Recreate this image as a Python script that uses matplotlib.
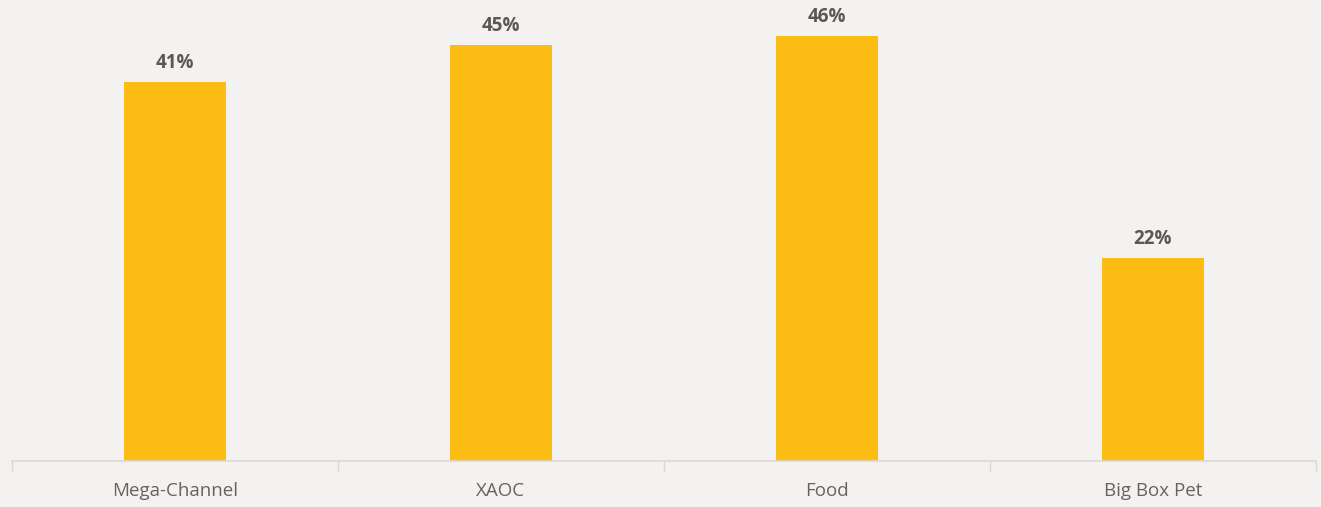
import matplotlib.pyplot as plt

# Datos del grafico
categorias = ["Mega-Channel", "XAOC", "Food", "Big Box Pet"]
valores = [41, 45, 46, 22]
etiquetas = ["41%", "45%", "46%", "22%"]

plt.rcParams['font.family'] = ['Open Sans', 'DejaVu Sans']

fig = plt.figure(figsize=(13.21, 5.07), dpi=100)
fig.patch.set_facecolor('#f3f2f0')
ax = fig.add_axes([12 / 1321, 46 / 507, 1304 / 1321, 461 / 507])
ax.set_facecolor('none')

posiciones = range(len(categorias))
barras = ax.bar(posiciones, valores, width=0.31, color='#fbbc13')

for x, v, txt in zip(posiciones, valores, etiquetas):
    ax.annotate(txt, (x, v), xytext=(0, 6.5), textcoords='offset points',
                ha='center', va='bottom', fontsize=13.5, fontweight='bold',
                color='#5e5555')

ax.set_xlim(-0.5, len(categorias) - 0.5)
ax.set_ylim(0, 49.85)
ax.set_yticks([])
ax.set_xticks(posiciones)
ax.set_xticklabels(categorias, fontsize=13.5, color='#6a6161')
ax.tick_params(axis='x', length=0, pad=15)
# marcas en los limites de cada categoria
ax.set_xticks([i - 0.5 for i in range(len(categorias) + 1)], minor=True)
ax.tick_params(axis='x', which='minor', length=8, color='#ddd8d3', width=1)

for lado in ['top', 'right', 'left']:
    ax.spines[lado].set_visible(False)
ax.spines['bottom'].set_color('#ddd8d3')
ax.spines['bottom'].set_linewidth(1.2)

fig.savefig('out.png', dpi=100, facecolor=fig.get_facecolor())
